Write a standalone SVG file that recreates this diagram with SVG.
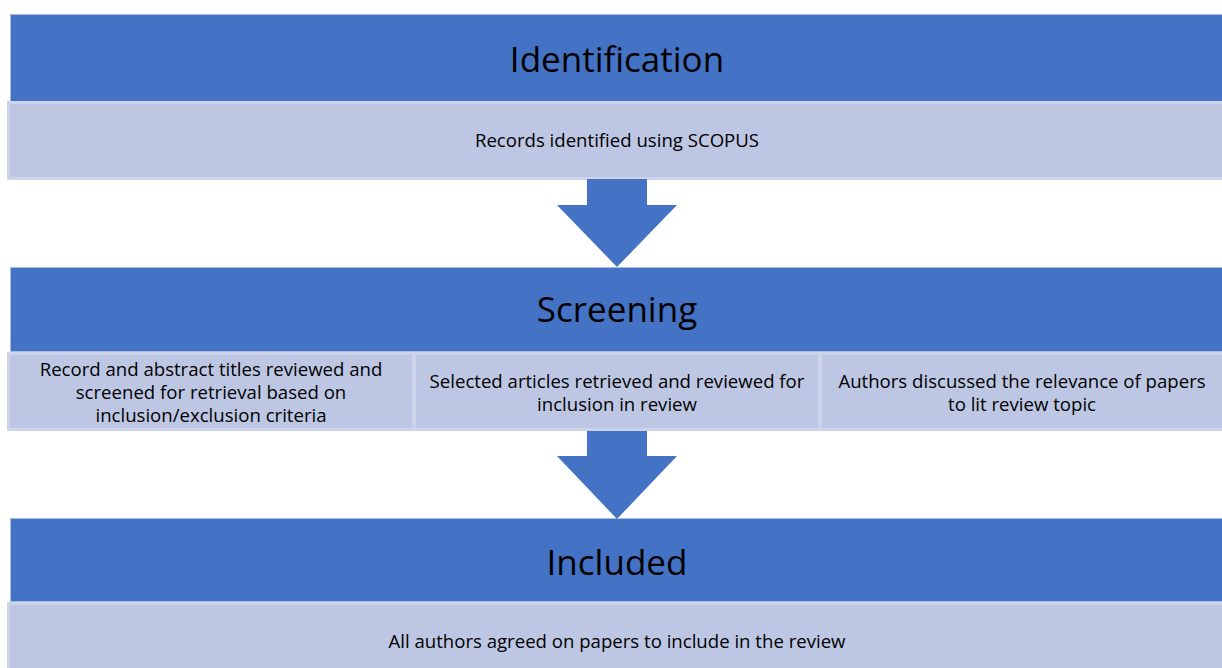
<svg xmlns="http://www.w3.org/2000/svg" width="1222" height="668" viewBox="0 0 1222 668">
  <style>
    .head { fill: #4472C4; stroke: #A9BBE0; stroke-width: 1; }
    .band { fill: #BDC7E4; stroke: #CDD4EA; stroke-width: 3; }
    .arrow { fill: #4472C4; }
    .title { font-family: "Open Sans", "Noto Sans", sans-serif; font-size: 35px; fill: #000; text-anchor: middle; }
    .body { font-family: "Open Sans", "Noto Sans", sans-serif; font-size: 18.6px; fill: #000; text-anchor: middle; }
  </style>
  <rect width="1222" height="668" fill="#FFFFFF"/>

  <!-- Stage 1 -->
  <g id="identification">
    <rect class="head" x="10.5" y="14.5" width="1220" height="87"/>
    <text class="title" x="617" y="72">Identification</text>
  </g>
  <g id="identification-records">
    <rect class="band" x="8.5" y="102.5" width="1220" height="76"/>
    <text class="body" x="617" y="147">Records identified using SCOPUS</text>
  </g>

  <!-- Stage 2 -->
  <g id="screening">
    <rect class="head" x="10.5" y="267.5" width="1220" height="84"/>
    <text class="title" x="617" y="322">Screening</text>
  </g>
  <g id="screening-titles">
    <rect class="band" x="8.5" y="353.5" width="405" height="76"/>
    <text class="body" x="211" y="376">Record and abstract titles reviewed and</text>
    <text class="body" x="211" y="399">screened for retrieval based on</text>
    <text class="body" x="211" y="422">inclusion/exclusion criteria</text>
  </g>
  <g id="screening-articles">
    <rect class="band" x="414.5" y="353.5" width="405" height="76"/>
    <text class="body" x="617" y="388">Selected articles retrieved and reviewed for</text>
    <text class="body" x="617" y="411">inclusion in review</text>
  </g>
  <g id="screening-discussion">
    <rect class="band" x="820.5" y="353.5" width="410" height="76"/>
    <text class="body" x="1022" y="388">Authors discussed the relevance of papers</text>
    <text class="body" x="1022" y="411">to lit review topic</text>
  </g>

  <!-- Stage 3 -->
  <g id="included">
    <rect class="head" x="10.5" y="518.5" width="1220" height="83"/>
    <text class="title" x="617" y="575">Included</text>
  </g>
  <g id="included-agreement">
    <rect class="band" x="8.5" y="603.5" width="1220" height="76"/>
    <text class="body" x="617" y="648">All authors agreed on papers to include in the review</text>
  </g>

  <!-- Block arrows between stages -->
  <g id="connectors">
    <polygon class="arrow" points="587,179 647,179 647,205 677,205 617,267 557,205 587,205"/>
    <polygon class="arrow" points="587,431 647,431 647,456 677,456 617,519 557,456 587,456"/>
  </g>
</svg>
